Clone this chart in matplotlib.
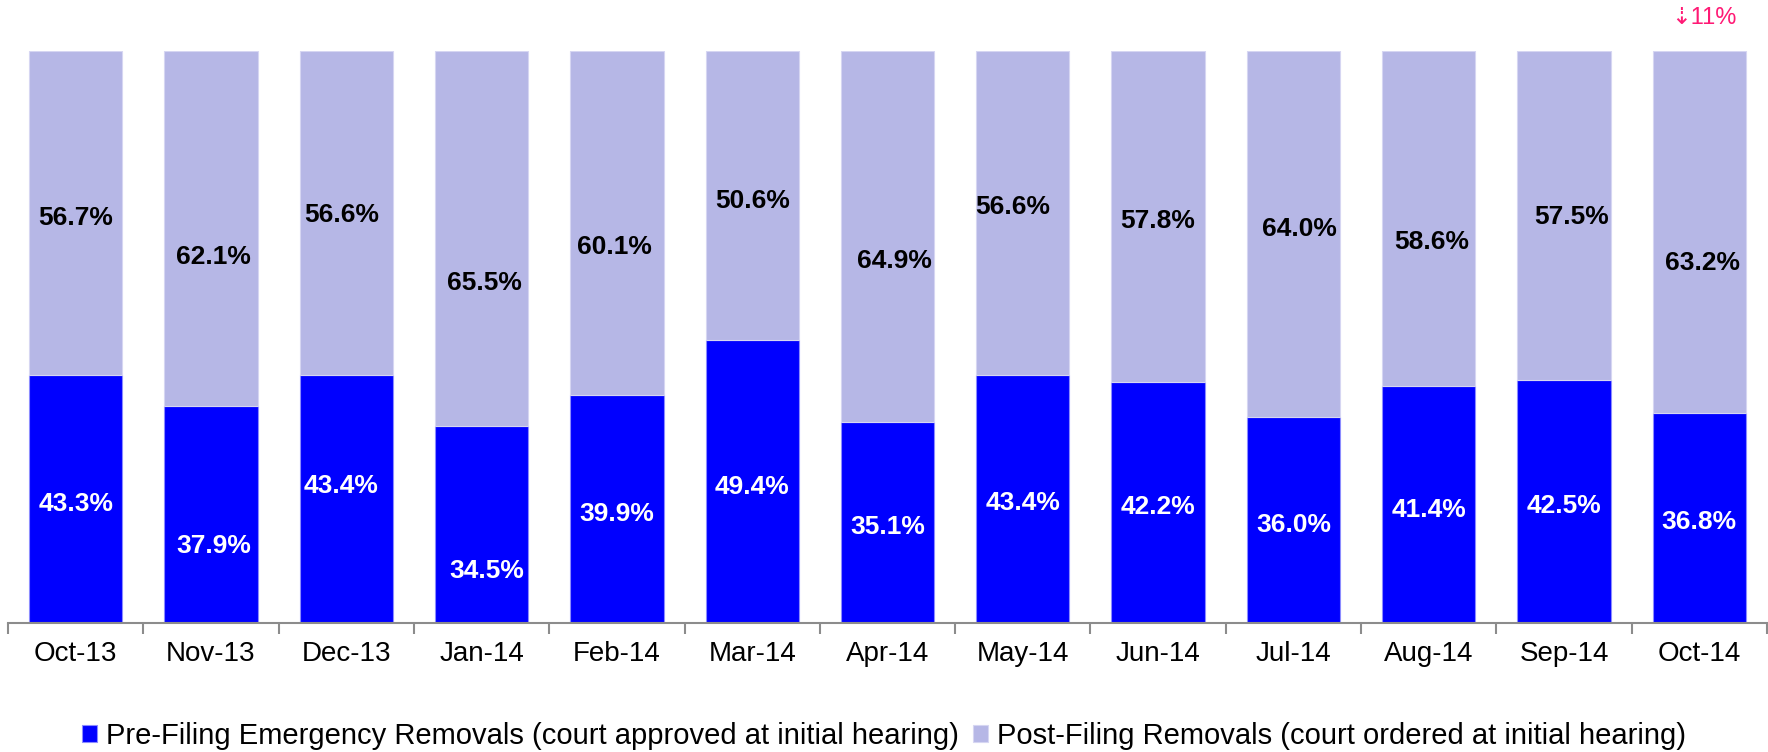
import matplotlib.pyplot as plt
import numpy as np

months = ["Oct-13", "Nov-13", "Dec-13", "Jan-14", "Feb-14", "Mar-14", "Apr-14",
          "May-14", "Jun-14", "Jul-14", "Aug-14", "Sep-14", "Oct-14"]
pre_filing = [43.3, 37.9, 43.4, 34.5, 39.9, 49.4, 35.1, 43.4, 42.2, 36.0, 41.4, 42.5, 36.8]
post_filing = [56.7, 62.1, 56.6, 65.5, 60.1, 50.6, 64.9, 56.6, 57.8, 64.0, 58.6, 57.5, 63.2]
change_note = "\u21e311%"

# labels were nudged by hand in the original; offsets from segment centre in pixels (down = +)
upper_dx = [0, 2, -5, 3, -2, 0, 7, -10, 0, 6, 3, 8, 3]
upper_dy = [2, 25, -1, 42, 21, 2, 21, -9, 2, -8, 20, -1, 28]
lower_dx = [0, 3, -5, 5, 0, 0, 0, 0, 0, 0, 0, 0, 0]
lower_dy = [2, 28, -16, 44, 2, 2, 1, 1, 2, 2, 2, 2, 1]

BLUE = "#0000FF"
LAVENDER = "#B6B7E6"
PX = 0.72  # points per pixel at dpi 100

plt.rcParams["font.family"] = ["Liberation Sans", "DejaVu Sans"]

fig = plt.figure(figsize=(17.68, 7.52), dpi=100)
ax = fig.add_axes([8 / 1768, 1 - 623 / 752, 1759 / 1768, (623 - 51) / 752])

x = np.arange(len(months))
pre = np.array(pre_filing)
post = np.array(post_filing)

b1 = ax.bar(x, pre, width=0.69, color=BLUE, edgecolor="#8c8cff", linewidth=0.8,
            label="Pre-Filing Emergency Removals (court approved at initial hearing)")
b2 = ax.bar(x, post, bottom=pre, width=0.69, color=LAVENDER, edgecolor="#d6d6f2", linewidth=0.8,
            label="Post-Filing Removals (court ordered at initial hearing)")

shift = 3  # matplotlib centres a bit higher than the glyphs
for i in range(len(months)):
    ax.annotate(f"{pre[i]:.1f}%", (x[i], pre[i] / 2),
                xytext=(lower_dx[i] * PX, -(lower_dy[i] + shift) * PX), textcoords="offset points",
                ha="center", va="center", color="white", fontsize=19, fontweight="bold")
    ax.annotate(f"{post[i]:.1f}%", (x[i], pre[i] + post[i] / 2),
                xytext=(upper_dx[i] * PX, -(upper_dy[i] + shift) * PX), textcoords="offset points",
                ha="center", va="center", color="black", fontsize=19, fontweight="bold")

ax.set_xlim(-0.5, len(months) - 0.5)
ax.set_ylim(0, 100)
for side in ["top", "right", "left"]:
    ax.spines[side].set_visible(False)
ax.spines["bottom"].set_color("#8c8c8c")
ax.spines["bottom"].set_linewidth(1.5)
ax.set_yticks([])
ax.set_xticks(x)
ax.set_xticklabels(months, fontsize=20)
ax.tick_params(axis="x", which="major", length=0, pad=13)
ax.set_xticks(np.arange(len(months) + 1) - 0.5, minor=True)
ax.tick_params(axis="x", which="minor", length=8, width=1.5, color="#8c8c8c")

fig.text(1737 / 1768, 1 - 18 / 752, change_note, ha="right", va="center",
         color="#FF1A75", fontsize=17)

fig.legend(handles=[b1, b2], loc="center", bbox_to_anchor=(0.5, 1 - 736 / 752),
           ncol=2, frameon=False, fontsize=21, handlelength=0.5, handleheight=0.55,
           handletextpad=0.3, columnspacing=0.5, borderaxespad=0)

fig.savefig("out.png", dpi=100)
